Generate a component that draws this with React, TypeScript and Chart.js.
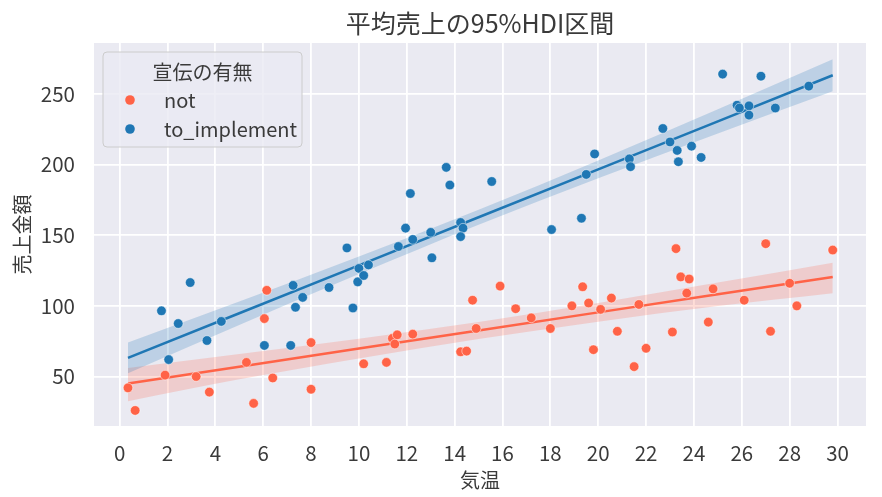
import React, { useEffect, useRef } from "react";
import { Chart, registerables } from "chart.js";

Chart.register(...registerables);

// 宣伝なし (not)
const notTemp = [0.35, 0.65, 1.9, 3.2, 3.75, 5.3, 5.6, 6.05, 6.15, 6.4, 8.0, 8.0, 10.2, 11.15, 11.4, 11.6, 11.5, 12.25, 14.25, 14.5, 14.75, 14.9, 15.9, 16.55, 17.2, 18.0, 18.9, 19.35, 19.6, 19.8, 20.1, 20.55, 20.8, 21.5, 21.7, 22.0, 23.1, 23.25, 23.45, 23.8, 23.7, 24.6, 24.8, 26.1, 27.0, 27.2, 28.0, 28.3, 29.8];
const notSales = [42, 26, 51, 50, 39, 60, 31, 91, 111, 49, 74, 41, 59, 60, 77, 79.5, 73, 80, 67.5, 68, 104, 84, 114, 98, 91.5, 84, 100, 113.5, 102, 69, 97.5, 105.5, 82, 57, 101, 70, 81.5, 140.5, 120.5, 119, 109, 88.5, 112, 104, 144, 82, 116, 100, 139.5];

// 宣伝あり (to_implement)
const implTemp = [1.75, 2.05, 2.45, 2.95, 3.65, 4.25, 6.05, 7.15, 7.25, 7.35, 7.65, 8.75, 9.5, 9.75, 9.95, 10.0, 10.2, 10.4, 11.65, 11.95, 12.15, 12.25, 13.0, 13.05, 13.65, 13.8, 14.25, 14.35, 14.25, 15.55, 18.05, 19.3, 19.5, 19.85, 21.3, 21.35, 22.7, 23.0, 23.3, 23.35, 23.9, 24.3, 25.2, 25.8, 25.9, 26.3, 26.3, 26.8, 27.4, 28.8];
const implSales = [96.5, 62, 87.5, 116.5, 75.5, 89, 72, 72, 114.5, 99, 106, 113, 141, 98.5, 117, 126.5, 121.5, 129, 142, 155, 179.5, 147, 152, 134, 198, 185.5, 159, 155, 149, 188, 154, 162, 193, 207.5, 204, 198.5, 225.5, 216, 210, 202, 213, 205, 264, 242, 240, 241.5, 235, 262.5, 240, 255.5];

// 平均売上と95%HDI
const bandTemp = [0.35, 5, 10, 15, 20, 25, 29.8];
const notMean = [45, 56.9, 69.8, 82.6, 95.4, 108.2, 120.5];
const notLow = [32.5, 48, 62.8, 76.6, 88.8, 99.9, 109];
const notHigh = [56, 66, 76.8, 88.6, 102, 116.5, 130.5];
const implMean = [63.2, 94.8, 128.7, 162.7, 196.6, 230.6, 263.2];
const implLow = [52.4, 86.5, 122.5, 157.4, 190.3, 222, 251.9];
const implHigh = [74, 103.1, 134.9, 168, 202.9, 239.2, 274.5];

const groups = ["not", "to_implement"];
const RED = "#ff6347";
const BLUE = "#1f77b4";
const FONT = "'Noto Sans CJK JP', 'Noto Sans', sans-serif";
const TEXT = "#3a3a3a";

const pts = (xs: number[], ys: number[]) => xs.map((x, i) => ({ x, y: ys[i] }));

const bgPlugin = {
  id: "plotBg",
  beforeDraw(chart: any) {
    const { ctx, chartArea: a } = chart;
    ctx.save();
    ctx.fillStyle = "#eaeaf2";
    ctx.fillRect(a.left, a.top, a.right - a.left, a.bottom - a.top);
    ctx.restore();
  },
};

const legendPlugin = {
  id: "innerLegend",
  afterDatasetsDraw(chart: any) {
    const { ctx, chartArea: a } = chart;
    const x = a.left + 9;
    const y = a.top + 9;
    const w = 199;
    const h = 95;
    ctx.save();
    ctx.beginPath();
    ctx.roundRect(x, y, w, h, 4);
    ctx.fillStyle = "rgba(234,234,242,0.8)";
    ctx.fill();
    ctx.strokeStyle = "#cccccc";
    ctx.lineWidth = 1;
    ctx.stroke();
    ctx.fillStyle = TEXT;
    ctx.font = `20px ${FONT}`;
    ctx.textBaseline = "middle";
    ctx.textAlign = "center";
    ctx.fillText("宣伝の有無", x + w / 2, a.top + 29);
    ctx.textAlign = "left";
    groups.forEach((g, i) => {
      const cy = a.top + 57 + i * 29;
      ctx.beginPath();
      ctx.arc(a.left + 36, cy, 4.8, 0, Math.PI * 2);
      ctx.fillStyle = i === 0 ? RED : BLUE;
      ctx.fill();
      ctx.fillStyle = TEXT;
      ctx.fillText(g, a.left + 70, cy);
    });
    ctx.restore();
  },
};

export default function App() {
  const canvasRef = useRef<HTMLCanvasElement | null>(null);

  useEffect(() => {
    const ctx = canvasRef.current?.getContext("2d");
    if (!ctx) return;

    Chart.defaults.font.family = FONT;
    Chart.defaults.color = TEXT;

    const lineDs = (data: any, color: string, order: number) => ({
      data,
      showLine: true,
      borderColor: color,
      borderWidth: 2.5,
      pointRadius: 0,
      fill: false,
      order,
    });
    const edgeDs = (data: any, order: number, fill: any, bg: string) => ({
      data,
      showLine: true,
      borderColor: "transparent",
      pointRadius: 0,
      cubicInterpolationMode: "monotone",
      fill,
      backgroundColor: bg,
      order,
    });

    const chart = new Chart(ctx, {
      type: "scatter",
      data: {
        datasets: [
          { label: groups[1], data: pts(implTemp, implSales), backgroundColor: BLUE, borderColor: "#ffffff", borderWidth: 0.5, pointRadius: 4.8, order: 0 },
          { label: groups[0], data: pts(notTemp, notSales), backgroundColor: RED, borderColor: "#ffffff", borderWidth: 0.5, pointRadius: 4.8, order: 1 },
          lineDs(pts(bandTemp, implMean), BLUE, 2),
          lineDs(pts(bandTemp, notMean), RED, 3),
          edgeDs(pts(bandTemp, implLow), 4, false, "transparent"),
          edgeDs(pts(bandTemp, implHigh), 5, "-1", "rgba(31,119,180,0.22)"),
          edgeDs(pts(bandTemp, notLow), 6, false, "transparent"),
          edgeDs(pts(bandTemp, notHigh), 7, "-1", "rgba(255,99,71,0.22)"),
        ] as any,
      },
      options: {
        animation: false,
        responsive: false,
        events: [],
        layout: { padding: { left: 0, right: 16, top: 0, bottom: 0 } },
        plugins: {
          legend: { display: false },
          tooltip: { enabled: false },
          title: {
            display: true,
            text: "平均売上の95%HDI区間",
            fullSize: false,
            color: TEXT,
            font: { size: 25, weight: "normal" },
            padding: { top: 8, bottom: 5 },
          },
        },
        scales: {
          x: {
            type: "linear",
            min: -1.07,
            max: 31.19,
            ticks: { stepSize: 2, includeBounds: false, autoSkip: false, maxRotation: 0, padding: 15, color: TEXT, font: { size: 20.5 } },
            grid: { color: "#ffffff", lineWidth: 1.8, drawTicks: false },
            border: { display: false },
            title: { display: true, text: "気温", color: TEXT, font: { size: 20 }, padding: { top: 0, bottom: 5 } },
            afterFit: (s: any) => {
              s.height = 71;
            },
          },
          y: {
            type: "linear",
            min: 15,
            max: 286,
            ticks: { stepSize: 50, includeBounds: false, padding: 19, color: TEXT, font: { size: 20.5 } },
            grid: { color: "#ffffff", lineWidth: 1.8, drawTicks: false },
            border: { display: false },
            title: { display: true, text: "売上金額", color: TEXT, font: { size: 20 }, padding: { top: 10, bottom: 0 } },
            afterFit: (s: any) => {
              s.width = 94;
            },
          },
        },
      } as any,
      plugins: [bgPlugin, legendPlugin],
    });

    return () => chart.destroy();
  }, []);

  return (
    <div style={{ position: "absolute", left: 0, top: 0, width: 882, height: 497, background: "#ffffff" }}>
      <canvas ref={canvasRef} width={882} height={497} />
    </div>
  );
}
